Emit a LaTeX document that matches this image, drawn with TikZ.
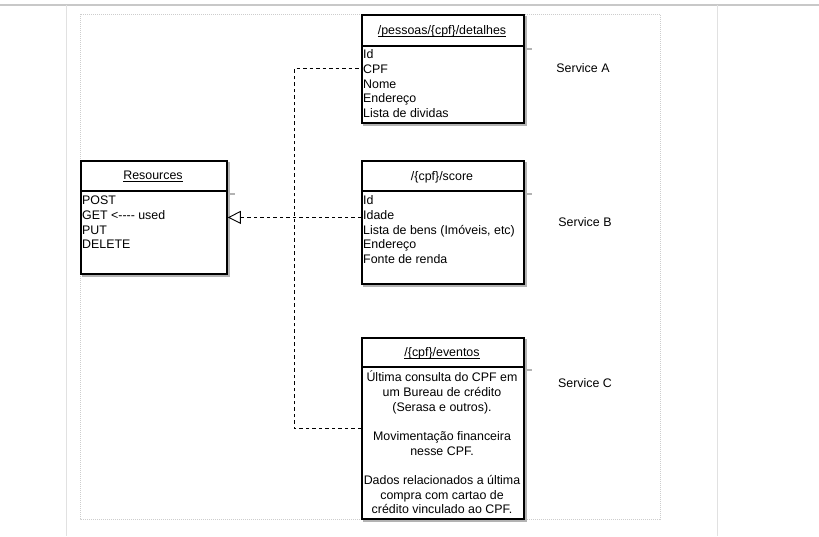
\documentclass[tikz,border=0pt]{standalone}
\usepackage{fontspec}
\setmainfont{Liberation Sans}
\usetikzlibrary{arrows.meta,calc}
\definecolor{shadowgray}{RGB}{179,179,179}
\definecolor{frameline}{RGB}{200,200,200}
\definecolor{sideline}{RGB}{225,225,225}
\definecolor{dotgray}{RGB}{205,205,205}
\newcommand{\myul}[1]{\leavevmode\sbox0{#1}\rlap{\rule[-2.2pt]{\wd0}{0.8pt}}\usebox0}
\begin{document}
\begin{tikzpicture}[x=1pt,y=-1pt,
  every node/.style={font=\fontsize{12.4}{14.7}\selectfont},
  cls/.style={draw=black, line width=1.8pt, fill=white, inner sep=0pt,
    anchor=north west},
  shadowbox/.style={fill=shadowgray},
  shadowsep/.style={draw=shadowgray, line width=1.2pt},
  sepline/.style={draw=black, line width=1.2pt},
  title/.style={anchor=base, inner sep=0pt},
  body/.style={anchor=north west, align=left, inner sep=0pt},
  conn/.style={draw=black, line width=0.9pt, dash pattern=on 3.5pt off 3pt},
  svc/.style={anchor=base, inner sep=0pt}
]
\useasboundingbox (0,0) rectangle (819,536);
\fill[white] (0,0) rectangle (819,536);
\draw[frameline, line width=1.2pt] (0,5) -- (819,5);
\draw[sideline, line width=1pt] (66,5) -- (66,536);
\draw[sideline, line width=1pt] (717,5) -- (717,536);
\draw[dotgray, line width=0.8pt, dash pattern=on 1pt off 1pt] (80,14) rectangle (660,519);

% shadows
\fill[shadowbox] (82.1,162.1) rectangle (229.9,276.9);
\draw[shadowsep] (226,194) -- (235,194);
\fill[shadowbox] (363.1,16.1) rectangle (526.9,125.9);
\draw[shadowsep] (523,49) -- (532,49);
\fill[shadowbox] (363.1,162.1) rectangle (526.9,286.9);
\draw[shadowsep] (523,194) -- (532,194);
\fill[shadowbox] (363.1,339.1) rectangle (526.9,521.9);
\draw[shadowsep] (523,370) -- (532,370);

% Resources
\node[cls, minimum width=146pt, minimum height=113pt] (res) at (80,160) {};
\draw[sepline] ([yshift=-31pt]res.north west) -- ([yshift=-31pt]res.north east);
\node[title] (resT) at (153,179.6) {\myul{Resources}};
\node[body] (resB) at (82,192.4) {\rule{0pt}{12pt}POST\\GET <-{}-{}-{}- used\\PUT\\DELETE};

% detalhes
\node[cls, minimum width=162pt, minimum height=108pt] (det) at (361,14) {};
\draw[sepline] ([yshift=-32pt]det.north west) -- ([yshift=-32pt]det.north east);
\node[title] (detT) at (442,34.4) {\myul{/pessoas/\{cpf\}/detalhes}};
\node[body] (detB) at (363,46.4) {\rule{0pt}{12pt}Id\\CPF\\Nome\\Endereço\\Lista de dividas};

% score
\node[cls, minimum width=162pt, minimum height=123pt] (score) at (361,160) {};
\draw[sepline] ([yshift=-31pt]score.north west) -- ([yshift=-31pt]score.north east);
\node[title] (scoreT) at (442,180) {/\{cpf\}/score};
\node[body] (scoreB) at (363,192.4) {\rule{0pt}{12pt}Id\\Idade\\Lista de bens (Imóveis, etc)\\Endereço\\Fonte de renda};

% eventos
\node[cls, minimum width=162pt, minimum height=181pt] (ev) at (361,337) {};
\draw[sepline] ([yshift=-30pt]ev.north west) -- ([yshift=-30pt]ev.north east);
\node[title] (evT) at (442,356.6) {\myul{/\{cpf\}/eventos}};
\node[anchor=north, align=center, inner sep=0pt] (evB) at (442,369.4) {\rule{0pt}{12pt}Última consulta do CPF em\\um Bureau de crédito\\(Serasa e outros).\\[14.7pt]Movimentação financeira\\nesse CPF.\\[14.7pt]Dados relacionados a última\\compra com cartao de\\crédito vinculado ao CPF.};

% service labels
\node[svc] (sA) at (583,72.4) {Service A};
\node[svc] (sB) at (585,226.4) {Service B};
\node[svc] (sC) at (585,387.7) {Service C};

% connectors
\coordinate (bend) at (294,0);
\draw[conn] (ev.west) -- (ev.west -| bend) -- (det.west -| bend) -- (det.west);
\draw[conn, -{Triangle[open, length=13pt, width=13pt, line width=0.9pt]}] (score.west |- res.east) -- (res.east);
\end{tikzpicture}
\end{document}
